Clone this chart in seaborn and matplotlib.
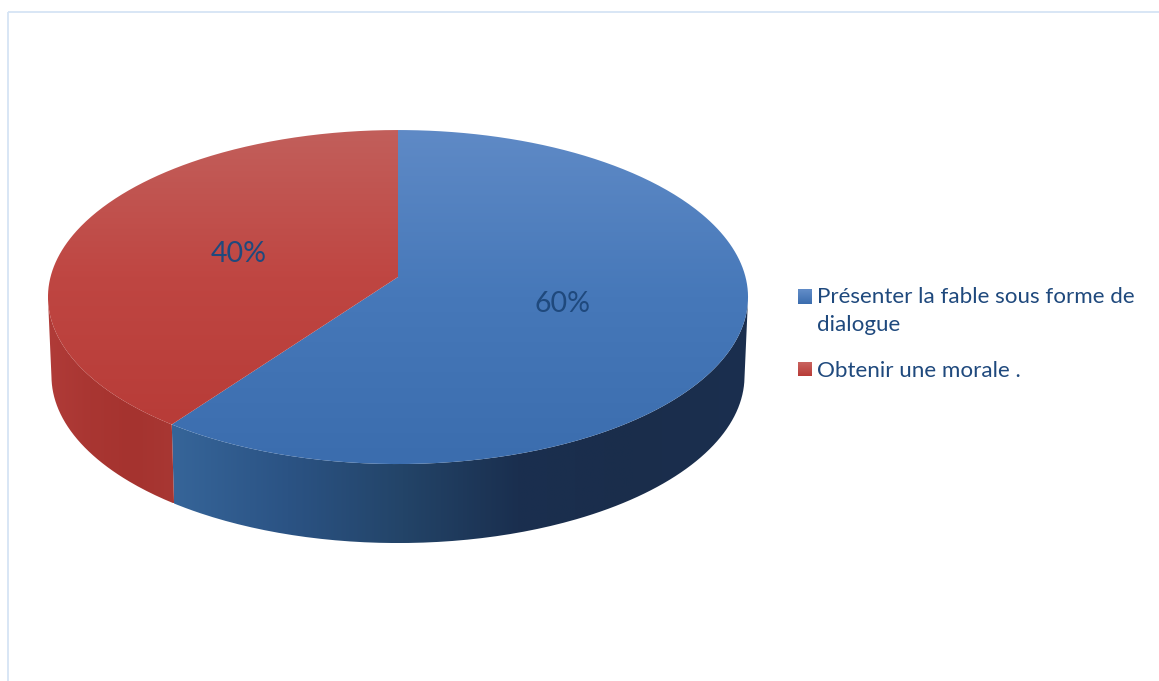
import numpy as np
import seaborn as sb
from matplotlib import pyplot as plt
from matplotlib.legend_handler import HandlerBase
from matplotlib.patches import PathPatch, Rectangle
from matplotlib.path import Path

# chart data
labels = ["Présenter la fable sous forme de\ndialogue", "Obtenir une morale ."]
values = [60, 40]

# gradient stops (top of the slices runs vertically, the side horizontally)
top_colors = [["#5f8ac6", "#4678b9", "#3b6dae"], ["#c25f5b", "#bf4642", "#b83c38"]]
side_colors = [["#366599", "#2b5384", "#234468", "#1a2f4f", "#1a2d4b", "#1b2f4f"],
               ["#b03b38", "#a93632", "#a5332f", "#a83733"]]
legend_colors = [["#5f8ac6", "#3b6dae"], ["#c8625e", "#b83c38"]]
legend_shift = [10.4, 0]
text_color = "#1f497d"

# where the tilted pie sits on the picture, in pixels
cx, cy = 398, 277
rx, ry = 347.5, 164.6
tilt = 0.12
depth = 79


def project(x, y):
    # unit circle to tilted pie, far side is squeezed a bit
    d = 1 + tilt * np.asarray(y)
    return cx + rx * np.asarray(x) / d, cy - ry * np.asarray(y) / d


def rim(wedge):
    t = np.radians(np.linspace(wedge.theta1, wedge.theta2, 300))
    return project(np.cos(t), np.sin(t))


def fill_gradient(ax, path, colors, vertical, zorder):
    cmap = sb.blend_palette(colors, as_cmap=True)
    x0, y0 = path.vertices.min(axis=0)
    x1, y1 = path.vertices.max(axis=0)
    ramp = np.linspace(0, 1, 256)
    ramp = ramp.reshape(-1, 1) if vertical else ramp.reshape(1, -1)
    im = ax.imshow(ramp, cmap=cmap, extent=(x0, x1, y1, y0), origin="upper",
                   aspect="auto", zorder=zorder, interpolation="bilinear")
    im.set_clip_path(PathPatch(path, transform=ax.transData))


class GradientSquare(HandlerBase):
    def __init__(self, colors, shift):
        super().__init__()
        self.colors = colors
        self.shift = shift

    def create_artists(self, legend, orig_handle, xdescent, ydescent, width, height, fontsize, trans):
        cmap = sb.blend_palette(self.colors, as_cmap=True)
        side = 14
        bottom = -ydescent + height / 2 - side / 2 * 0.72 + self.shift
        bands = []
        for i in range(side):
            bands.append(Rectangle((-xdescent, bottom + i * 0.72), side * 0.72, 0.8,
                                   facecolor=cmap(1 - i / (side - 1)), edgecolor="none", transform=trans))
        return bands


def main():
    sb.set_theme(style="white")
    plt.rcParams["font.family"] = ["Lato", "DejaVu Sans"]

    fig, ax = plt.subplots(figsize=(11.59, 6.81), dpi=100)
    fig.subplots_adjust(0, 0, 1, 1)

    wedges, _, pct_texts = ax.pie(values, startangle=90, counterclock=False, autopct="%.0f%%",
                                  pctdistance=0.49, textprops={"color": text_color, "fontsize": 20.5})

    for i, wedge in enumerate(wedges):
        wedge.set_visible(False)
        x, y = rim(wedge)

        side = np.vstack([np.column_stack([x, y]),
                          np.column_stack([cx + (x - cx) * 0.99, y + depth])[::-1]])
        # only the part below the widest line shows, start the gradient there
        front = y > 297
        keep = np.concatenate([front, front[::-1]])
        fill_gradient(ax, Path(side[keep]), side_colors[i], False, 1)

        top = np.vstack([[project(0, 0)], np.column_stack([x, y])])
        fill_gradient(ax, Path(top), top_colors[i], True, 2)

    for t in pct_texts:
        px, py = project(*t.get_position())
        t.set_position((px, py + 1.5))
        t.set_zorder(3)

    ax.add_patch(Rectangle((8, 12), 1300, 1000, fill=False, edgecolor="#d6e4f5", linewidth=1.3))

    handles = [Rectangle((0, 0), 1, 1) for _ in labels]
    leg = ax.legend(handles, labels, loc="upper left", bbox_to_anchor=(798, 287), bbox_transform=ax.transData,
                    frameon=False, fontsize=16.1, labelcolor=text_color, borderpad=0, borderaxespad=0,
                    handlelength=0.625, handletextpad=0.22, labelspacing=1.16,
                    handler_map={h: GradientSquare(c, s) for h, c, s in zip(handles, legend_colors, legend_shift)})
    for t in leg.get_texts():
        t.set_linespacing(1.48)

    ax.set_aspect("auto")
    ax.set_xlim(0, 1159)
    ax.set_ylim(681, 0)
    ax.axis("off")

    plt.savefig("out.png", dpi=100)


if __name__ == "__main__":
    main()
